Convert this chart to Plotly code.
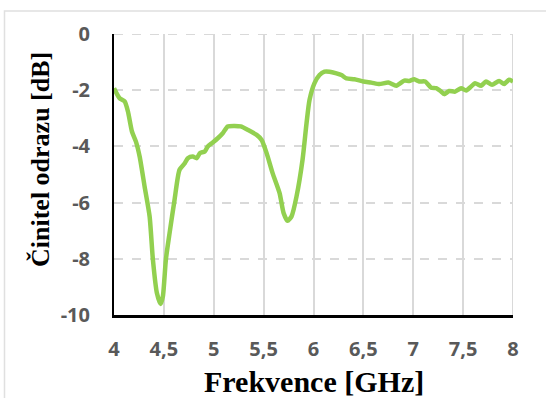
import plotly.graph_objects as go

freq = [4.0, 4.057, 4.107, 4.14, 4.18, 4.22, 4.257, 4.307, 4.357, 4.39, 4.43, 4.467, 4.49, 4.52, 4.557,
        4.607, 4.657, 4.71, 4.74, 4.79, 4.83, 4.86, 4.91, 4.94, 4.99, 5.04, 5.09, 5.14, 5.21, 5.27,
        5.34, 5.43, 5.48, 5.53, 5.59, 5.66, 5.70, 5.74, 5.78, 5.83, 5.89, 5.93, 5.96, 6.01, 6.06,
        6.11, 6.16, 6.23, 6.28, 6.33, 6.41, 6.50, 6.58, 6.66, 6.75, 6.83, 6.91, 6.96, 7.01, 7.06,
        7.12, 7.18, 7.23, 7.28, 7.31, 7.36, 7.42, 7.48, 7.53, 7.58, 7.62, 7.68, 7.73, 7.79, 7.86,
        7.91, 7.96, 8.0]
s11 = [-1.93, -2.29, -2.40, -2.76, -3.47, -3.83, -4.36, -5.43, -6.49, -8.03, -9.22, -9.61, -9.34, -8.03, -7.09,
       -5.90, -4.83, -4.60, -4.42, -4.36, -4.42, -4.24, -4.18, -4.00, -3.86, -3.71, -3.53, -3.29, -3.27, -3.29,
       -3.41, -3.59, -3.77, -4.24, -4.95, -5.66, -6.37, -6.65, -6.49, -5.78, -4.48, -3.18, -2.35, -1.75, -1.46,
       -1.34, -1.34, -1.40, -1.46, -1.58, -1.61, -1.69, -1.73, -1.78, -1.73, -1.84, -1.66, -1.67, -1.61, -1.69,
       -1.69, -1.91, -1.93, -2.05, -2.14, -2.03, -2.05, -1.93, -2.01, -1.87, -1.75, -1.84, -1.69, -1.81, -1.67,
       -1.78, -1.63, -1.69]

x_ticks = [4, 4.5, 5, 5.5, 6, 6.5, 7, 7.5, 8]
y_ticks = [0, -2, -4, -6, -8, -10]
x_title = "Frekvence [GHz]"
y_title = "Činitel odrazu [dB]"

fig = go.Figure()
fig.add_trace(go.Scatter(x=freq, y=s11, mode="lines",
                         line=dict(color="#92D050", width=4.5, shape="spline", smoothing=0.6),
                         showlegend=False, hoverinfo="skip"))

tickfont = dict(family="Open Sans", size=20, color="#595959", weight=700)

fig.update_xaxes(range=[4, 8], tickvals=x_ticks, ticktext=[str(v).replace(".", ",") for v in x_ticks],
                 showgrid=True, gridcolor="#d9d9d9", gridwidth=2,
                 showline=True, linecolor="black", linewidth=2.5,
                 ticks="outside", ticklen=14, tickcolor="rgba(0,0,0,0)",
                 tickfont=tickfont, zeroline=False, automargin=False)
fig.update_yaxes(range=[-10, 0], tickvals=y_ticks, ticktext=[str(v) for v in y_ticks],
                 showgrid=True, gridcolor="#d9d9d9", gridwidth=2, griddash="dash",
                 showline=True, linecolor="black", linewidth=2,
                 ticks="outside", ticklen=18, tickcolor="rgba(0,0,0,0)",
                 tickfont=tickfont, zeroline=False, automargin=False)

shapes = [
    # outer chart border
    dict(type="rect", xref="paper", yref="paper",
         x0=(4.5 - 114) / 399, x1=(548 - 114) / 399,
         y0=-(400 - 315) / 281, y1=1 + (315 - 11 - 281) / 281,
         line=dict(color="#e0e0e0", width=1.5), layer="below"),
    # top gridline (0 dB) and right gridline (8 GHz), dropped by plotly at range ends
    dict(type="line", xref="paper", yref="y", x0=0, x1=1, y0=y_ticks[0], y1=y_ticks[0],
         line=dict(color="#d9d9d9", width=2, dash="dash"), layer="below"),
    dict(type="line", xref="x", yref="paper", x0=x_ticks[-1], x1=x_ticks[-1], y0=0, y1=1,
         line=dict(color="#d9d9d9", width=2), layer="below"),
]

annotations = [
    dict(text=x_title, xref="paper", yref="paper", x=0.5, y=-(381 - 315) / 281,
         xanchor="center", yanchor="middle", showarrow=False,
         font=dict(family="Liberation Serif", size=30, color="black", weight=700)),
    dict(text=y_title, xref="paper", yref="paper", x=-(114 - 40) / 399, y=(315 - 160) / 281,
         xanchor="center", yanchor="middle", showarrow=False, textangle=-90,
         font=dict(family="Liberation Serif", size=26, color="black", weight=700)),
]

fig.update_layout(width=546, height=398, margin=dict(l=114, r=33, t=34, b=83),
                  plot_bgcolor="white", paper_bgcolor="white", separators=", ",
                  shapes=shapes, annotations=annotations)

fig.write_html("out.html", config={"displayModeBar": False},
               post_script="document.body.style.margin='0';document.body.style.overflow='hidden';")
